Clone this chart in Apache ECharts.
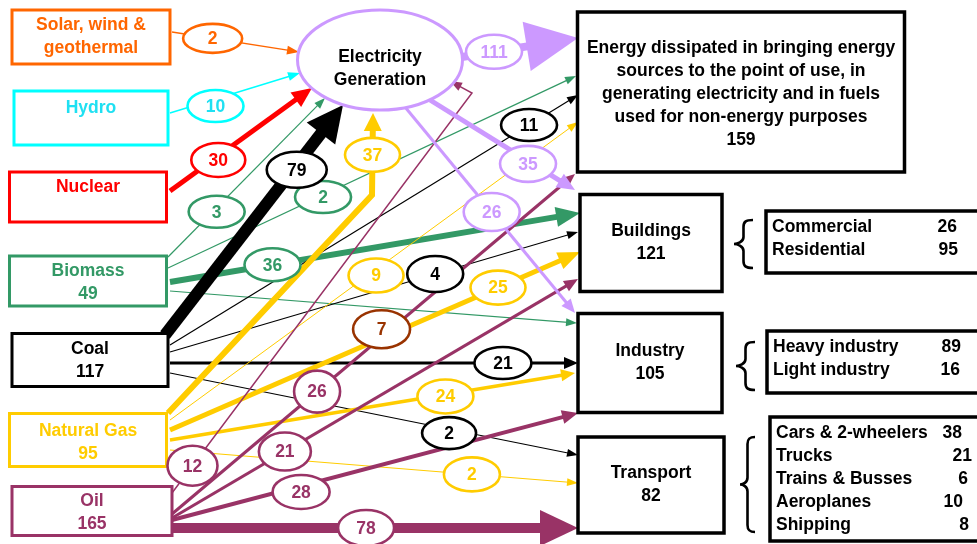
<!DOCTYPE html>
<html><head><meta charset="utf-8">
<script src="https://cdn.jsdelivr.net/npm/echarts@6/dist/echarts.min.js"></script>
<style>html,body{margin:0;padding:0;background:#fff}#c{width:977px;height:544px}</style>
</head><body><div id="c"></div>
<script>
// ================= DATA =================
const sourceIds    = ['solar', 'hydro', 'nuclear', 'biomass', 'coal', 'gas', 'oil'];
const sourceNames  = ['Solar, wind &\ngeothermal', 'Hydro', 'Nuclear', 'Biomass', 'Coal', 'Natural Gas', 'Oil'];
const sourceTotals = [null, null, null, 49, 117, 95, 165];

const hubId = 'elec';
const hubName = 'Electricity\nGeneration';

const sinkIds    = ['lost', 'buildings', 'industry', 'transport'];
const sinkNames  = ['Energy dissipated in bringing energy\nsources to the point of use, in\ngenerating electricity and in fuels\nused for non-energy purposes',
                    'Buildings', 'Industry', 'Transport'];
const sinkTotals = [159, 121, 105, 82];

const flowFrom = ['solar','hydro','nuclear','biomass','biomass','biomass','biomass',
                  'coal','coal','coal','coal','coal',
                  'gas','gas','gas','gas','gas',
                  'oil','oil','oil','oil','oil',
                  'elec','elec','elec'];
const flowTo   = ['elec','elec','elec','elec','lost','buildings','industry',
                  'elec','lost','buildings','industry','transport',
                  'elec','lost','buildings','industry','transport',
                  'elec','lost','buildings','industry','transport',
                  'lost','buildings','industry'];
const flowValues = [2, 10, 30, 3, 2, 36, null,
                    79, 11, 4, 21, 2,
                    37, 9, 25, 24, 2,
                    12, 26, 21, 28, 78,
                    111, 35, 26];
// stray annotation shown on the oil -> dissipated flow
const extraLabelValues = [7];

const buildingsParts  = ['Commercial', 'Residential'];
const buildingsValues = [26, 95];
const industryParts   = ['Heavy industry', 'Light industry'];
const industryValues  = [89, 16];
const transportParts  = ['Cars & 2-wheelers', 'Trucks', 'Trains & Busses', 'Aeroplanes', 'Shipping'];
const transportValues = [38, 21, 6, 10, 8];

// ================= LAYOUT / STYLE =================
const FONT = 'bold 17.5px "Liberation Sans", Arial, Helvetica, sans-serif';
const COLORS = {solar:'#FF6600', hydro:'#00FFFF', nuclear:'#FF0000', biomass:'#339966', coal:'#000000',
                gas:'#FFCC00', oil:'#993366', elec:'#CC99FF'};
const TEXTCOL = Object.assign({}, COLORS, {hydro:'#1FE0F2'});

const NODE = {
  solar:    {c:[91,37],   s:[158,54],  dy:0},
  hydro:    {c:[91,118],  s:[154,54],  dy:-10},
  nuclear:  {c:[88,197],  s:[157,50],  dy:-10},
  biomass:  {c:[88,281],  s:[157,50],  dy:2},
  coal:     {c:[90,360],  s:[156,53],  dy:1},
  gas:      {c:[88,440],  s:[157,53],  dy:3},
  oil:      {c:[92,511],  s:[160,49],  dy:2},
  elec:     {c:[380,60],  s:[165,100], dy:9},
  lost:     {c:[741,92],  s:[327,160], dy:2},
  buildings:{c:[651,243], s:[142,97],  dy:0},
  industry: {c:[650,363], s:[144,99],  dy:0},
  transport:{c:[651,485], s:[146,96],  dy:0}
};

// per-flow geometry: path (last point = arrow tip), line width, arrow head [w,l], label position t, label size, label dy
const FLOWGEO = [
  {p:[[172,32],[299,52]],   w:1.3, h:[9,12],  t:.32,  ls:[59,29]},
  {p:[[170,113],[300,73]],  w:1.5, h:[9,12],  t:.35,  ls:[56,32], dy:7},
  {p:[[170,191],[312,88]],  w:5,   h:[18,20], t:.34,  ls:[54,34], dy:4},
  {p:[[168,257],[325,98]],  w:1.2, h:[8,11],  t:.31,  ls:[56,32], dy:4},
  {p:[[168,268],[576,76]],  w:1.2, h:[8,11],  t:.38,  ls:[56,32], dy:2},
  {p:[[170,282],[580,213]], w:6,   h:[20,24], t:.25,  ls:[56,33]},
  {p:[[170,291],[577,323]], w:1.2, h:[8,11]},
  {p:[[165,335],[343,105]], w:12,  h:[36,36], t:.74,  ls:[60,36], dy:5},
  {p:[[170,345],[578,95]],  w:1.2, h:[8,11],  t:.88,  ls:[56,32]},
  {p:[[170,352],[578,232]], w:1.2, h:[8,11],  t:.65,  ls:[56,36]},
  {p:[[170,363],[578,363]], w:3,   h:[12,14], t:.816, ls:[57,32]},
  {p:[[170,373],[578,455]], w:1.2, h:[8,11],  t:.684, ls:[54,32], dy:4},
  {p:[[168,413],[372,195],[373,113]], w:6, h:[18,18], t:.89, ls:[55,34]},
  {p:[[170,420],[578,122]], w:1,   h:[8,11],  t:.505, ls:[55,34], dy:6},
  {p:[[170,430],[580,252]], w:5,   h:[18,22], t:.8,   ls:[55,34]},
  {p:[[170,440],[575,373]], w:3.5, h:[12,14], t:.68,  ls:[56,34], dy:2},
  {p:[[170,450],[578,483]], w:1.2, h:[8,11],  t:.74,  ls:[56,34]},
  {p:[[172,493],[472,93],[450,81]], w:1.5, h:[9,12], t:.065, ls:[50,40]},
  {p:[[172,514],[575,174]], w:3,   h:[12,14], t:.36,  ls:[46,42]},
  {p:[[172,518],[578,279]], w:3,   h:[12,14], t:.278, ls:[52,38]},
  {p:[[172,520],[578,413]], w:4,   h:[14,16], t:.318, ls:[57,34], dy:6},
  {p:[[172,528],[578,528]], w:10,  h:[36,38], t:.478, ls:[56,36]},
  {p:[[462,57],[578,38]],   w:8,   h:[50,52], t:.276, ls:[56,34]},
  {p:[[430,100],[575,190]], w:5,   h:[16,18], t:.676, ls:[56,36], dy:3},
  {p:[[405,107],[575,313]], w:3,   h:[12,14], t:.51,  ls:[56,38]}
];
const EXTRAGEO = [{flow:18, t:.52, dy:-8, ls:[57,38], color:'#993300'}];

const SUBBOX = [
  {names:buildingsParts, vals:buildingsValues, x0:766, y0:211, x1:979, y1:273, tx:772, vx:[957,958], ty:227,
   brace:{x0:734, x1:753, y0:220, y1:268}},
  {names:industryParts,  vals:industryValues,  x0:767, y0:331, x1:979, y1:393, tx:773, vx:[961,960], ty:347,
   brace:{x0:736, x1:755, y0:342, y1:390}},
  {names:transportParts, vals:transportValues, x0:770, y0:417, x1:979, y1:541, tx:776, vx:[962,972,968,963,969], ty:433,
   brace:{x0:740, x1:755, y0:437, y1:532}}
];

// ================= GEOMETRY HELPERS =================
function pointAt(p, t) {
  const lens = []; let tot = 0;
  for (let i = 1; i < p.length; i++) { const l = Math.hypot(p[i][0]-p[i-1][0], p[i][1]-p[i-1][1]); lens.push(l); tot += l; }
  let d = t * tot;
  for (let i = 0; i < lens.length; i++) {
    if (d <= lens[i] || i === lens.length - 1) {
      const f = lens[i] ? d / lens[i] : 0;
      return [p[i][0] + (p[i+1][0]-p[i][0]) * f, p[i][1] + (p[i+1][1]-p[i][1]) * f];
    }
    d -= lens[i];
  }
}

// ================= BUILD LISTS =================
const labelList = [];
flowValues.forEach((v, i) => {
  if (v == null) return;
  const g = FLOWGEO[i]; const pt = pointAt(g.p, g.t);
  labelList.push({c:[pt[0], pt[1] + (g.dy || 0)], s:g.ls, stroke:COLORS[flowFrom[i]], color:TEXTCOL[flowFrom[i]], text:String(v)});
});
extraLabelValues.forEach((v, k) => {
  const e = EXTRAGEO[k]; const pt = pointAt(FLOWGEO[e.flow].p, e.t);
  labelList.push({c:[pt[0], pt[1] + e.dy], s:e.ls, stroke:e.color, color:e.color, text:String(v)});
});

const nodeList = [];
sourceIds.forEach((id, i) => {
  nodeList.push({kind:'rect', c:NODE[id].c, s:NODE[id].s, stroke:COLORS[id], lw:3, color:TEXTCOL[id], dy:NODE[id].dy,
    text: sourceNames[i] + (sourceTotals[i] != null ? '\n' + sourceTotals[i] : '')});
});
nodeList.push({kind:'ellipse', c:NODE.elec.c, s:NODE.elec.s, stroke:COLORS.elec, lw:3, color:'#000', dy:NODE.elec.dy, text:hubName});
sinkIds.forEach((id, i) => {
  nodeList.push({kind:'rect', c:NODE[id].c, s:NODE[id].s, stroke:'#000', lw:3.5, color:'#000', dy:NODE[id].dy,
    text: sinkNames[i] + '\n' + sinkTotals[i]});
});

// ================= RENDERERS =================
function renderFlow(params, api) {
  const i = api.value(0);
  const g = FLOWGEO[i]; const col = COLORS[flowFrom[i]];
  const pts = g.p.map(p => api.coord(p));
  const n = pts.length, tip = pts[n-1], prev = pts[n-2];
  const L = Math.hypot(tip[0]-prev[0], tip[1]-prev[1]);
  const d = [(tip[0]-prev[0]) / L, (tip[1]-prev[1]) / L];
  const nr = [-d[1], d[0]];
  const base = [tip[0] - d[0]*g.h[1], tip[1] - d[1]*g.h[1]];
  const linePts = pts.slice(0, n-1).concat([[base[0] + d[0]*2, base[1] + d[1]*2]]);
  const hw = g.h[0] / 2;
  return {type:'group', children:[
    {type:'polyline', shape:{points:linePts}, style:{stroke:col, lineWidth:g.w, fill:null, lineJoin:'miter'}},
    {type:'polygon', shape:{points:[tip, [base[0]+nr[0]*hw, base[1]+nr[1]*hw], [base[0]-nr[0]*hw, base[1]-nr[1]*hw]]},
     style:{fill:col, stroke:null}}
  ]};
}

function boxDims(api, c, s) {
  const a = api.coord(c), b = api.coord([c[0] + s[0]/2, c[1] + s[1]/2]);
  return {cx:a[0], cy:a[1], hw:b[0]-a[0], hh:b[1]-a[1]};
}

function renderNode(params, api) {
  const nd = nodeList[api.value(0)];
  const b = boxDims(api, nd.c, nd.s);
  const shp = nd.kind === 'rect'
    ? {type:'rect', shape:{x:b.cx-b.hw, y:b.cy-b.hh, width:2*b.hw, height:2*b.hh}}
    : {type:'ellipse', shape:{cx:b.cx, cy:b.cy, rx:b.hw, ry:b.hh}};
  shp.style = {fill:'#fff', stroke:nd.stroke, lineWidth:nd.lw};
  return {type:'group', children:[shp,
    {type:'text', style:{text:nd.text, x:b.cx, y:b.cy + nd.dy, align:'center', verticalAlign:'middle',
      font:FONT, fill:nd.color, lineHeight:23}}]};
}

function renderLabel(params, api) {
  const lb = labelList[api.value(0)];
  const b = boxDims(api, lb.c, lb.s);
  return {type:'group', children:[
    {type:'ellipse', shape:{cx:b.cx, cy:b.cy, rx:b.hw, ry:b.hh}, style:{fill:'#fff', stroke:lb.stroke, lineWidth:2.6}},
    {type:'text', style:{text:lb.text, x:b.cx, y:b.cy + 1, align:'center', verticalAlign:'middle', font:FONT, fill:lb.color}}
  ]};
}

function renderSub(params, api) {
  const sb = SUBBOX[api.value(0)];
  const p0 = api.coord([sb.x0, sb.y0]), p1 = api.coord([sb.x1, sb.y1]);
  const children = [{type:'rect', shape:{x:p0[0], y:p0[1], width:p1[0]-p0[0], height:p1[1]-p0[1]},
                     style:{fill:'#fff', stroke:'#000', lineWidth:3.5}}];
  sb.names.forEach((nm, k) => {
    const a = api.coord([sb.tx, sb.ty + 23*k]);
    const v = api.coord([sb.vx[k], sb.ty + 23*k]);
    children.push({type:'text', style:{text:nm, x:a[0], y:a[1], align:'left', verticalAlign:'middle', font:FONT, fill:'#000'}});
    children.push({type:'text', style:{text:String(sb.vals[k]), x:v[0], y:v[1], align:'right', verticalAlign:'middle', font:FONT, fill:'#000'}});
  });
  // curly brace
  const br = sb.brace;
  const t0 = api.coord([br.x0, br.y0]), t1 = api.coord([br.x1, br.y1]);
  const x0 = t0[0], x1 = t1[0], y0 = t0[1], y1 = t1[1];
  const xm = (x0 + x1) / 2, ym = (y0 + y1) / 2, r = 7;
  const pd = 'M' + x1 + ',' + y0 +
    ' C' + (xm+2) + ',' + y0 + ' ' + xm + ',' + (y0+2) + ' ' + xm + ',' + (y0+r) +
    ' L' + xm + ',' + (ym-r) +
    ' C' + xm + ',' + (ym-2) + ' ' + (x0+3) + ',' + ym + ' ' + x0 + ',' + ym +
    ' C' + (x0+3) + ',' + ym + ' ' + xm + ',' + (ym+2) + ' ' + xm + ',' + (ym+r) +
    ' L' + xm + ',' + (y1-r) +
    ' C' + xm + ',' + (y1-2) + ' ' + (xm+2) + ',' + y1 + ' ' + x1 + ',' + y1;
  children.push({type:'path', shape:{pathData:pd}, style:{fill:null, stroke:'#000', lineWidth:2.6}});
  return {type:'group', children:children};
}

const chart = echarts.init(document.getElementById('c'));
chart.setOption({
  animation: false,
  backgroundColor: '#fff',
  grid: {left: 0, right: 0, top: 0, bottom: 0, containLabel: false},
  xAxis: {type: 'value', min: 0, max: 977, show: false},
  yAxis: {type: 'value', min: 0, max: 544, inverse: true, show: false},
  series: [
    {type:'custom', name:'flows', silent:true, z:2, clip:false, renderItem:renderFlow,
     data: flowValues.map((v, i) => [i, 0])},
    {type:'custom', name:'nodes', silent:true, z:3, clip:false, renderItem:renderNode,
     data: nodeList.map((n, i) => [i, 0])},
    {type:'custom', name:'breakdown', silent:true, z:3, clip:false, renderItem:renderSub,
     data: SUBBOX.map((n, i) => [i, 0])},
    {type:'custom', name:'values', silent:true, z:4, clip:false, renderItem:renderLabel,
     data: labelList.map((n, i) => [i, 0])}
  ]
});
</script>
</body></html>
